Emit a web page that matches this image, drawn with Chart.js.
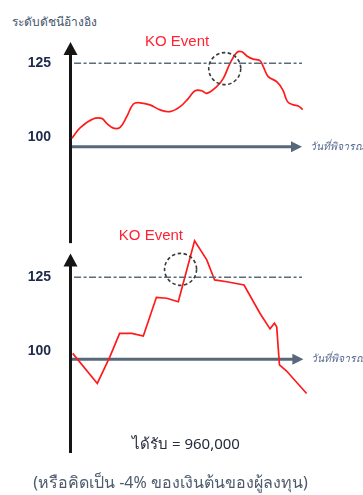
<!DOCTYPE html>
<html>
<head>
<meta charset="utf-8">
<script src="https://cdn.jsdelivr.net/npm/chart.js@4/dist/chart.umd.min.js"></script>
<style>
  html, body { margin: 0; padding: 0; background: #fff; width: 363px; height: 495px; overflow: hidden; }
  body { position: relative; font-family: Tahoma, "Noto Sans", "DejaVu Sans", sans-serif; }
  canvas { position: absolute; left: 0; }
  #upChart { top: 0; }
  #downChart { top: 225px; }
  .txt { position: absolute; white-space: nowrap; }
  #title { left: 12px; top: 12px; font-size: 12px; color: #44546a; }
  #payout { left: 0; width: 372px; text-align: center; top: 432px; font-size: 15px; color: #262a3a; }
  #note { left: 0; width: 341px; text-align: center; top: 470px; font-size: 16px; color: #4c5b6d; }
</style>
</head>
<body>
<div id="title" class="txt">ระดับดัชนีอ้างอิง</div>
<canvas id="upChart" width="363" height="248"></canvas>
<canvas id="downChart" width="363" height="235"></canvas>
<div id="payout" class="txt">ได้รับ = 960,000</div>
<div id="note" class="txt">(หรือคิดเป็น -4% ของเงินต้นของผู้ลงทุน)</div>

<script>
// Scenario 1: index path that climbs, touches the barrier and falls back
const upDays = [0, 3.5, 9.1, 12.9, 15.1, 18.0, 20.9, 23.8, 26.7, 29.6, 33.9, 38.3, 42.6, 47.0,
  50.6, 53.5, 56.4, 58.6, 62.9, 65.8, 68.7, 71.6, 73.8, 76.0, 78.8, 81.7, 83.2, 85.3, 89.1,
  91.7, 93.7, 96.2, 98.4, 100.3];
const upLevels = [99.6, 103.1, 106.1, 106.3, 104.6, 103.0, 103.3, 106.9, 111.2, 111.6, 110.9,
  109.2, 108.6, 110.3, 113.1, 115.7, 115.7, 114.8, 117.1, 119.9, 125.0, 128.6, 128.9, 127.5,
  126.4, 125.9, 123.8, 120.5, 118.7, 115.9, 112.0, 110.9, 110.5, 109.3];

// Scenario 2: index path that spikes through the barrier and ends below the start
const downDays = [0.3, 11.0, 16.5, 20.7, 26.0, 31.0, 36.7, 41.2, 46.2, 53.3, 58.6, 62.0, 67.3,
  74.8, 81.7, 86.1, 88.0, 89.0, 90.2, 93.3, 102.0];
const downLevels = [99.2, 89.0, 98.1, 106.0, 106.0, 105.1, 118.2, 117.9, 116.7, 137.4, 130.9,
  124.1, 123.5, 122.4, 112.8, 107.5, 109.4, 108.2, 95.3, 93.2, 85.6];

// Level axis ticks and the knock-out barrier
const tickValues = [125, 100];
const tickLabels = ['125', '100'];
const barrierLevel = 125;
const barrierDays = [0.9, 100];

// Knock-out markers: [day, level] of the circled crossing and label text
const upKnockOut = [66.4, 123.2];
const downKnockOut = [47.2, 127.7];
const koText = 'KO Event';
const upKoLabelAt = [45.7, 132.2];
const downKoLabelAt = [34.3, 139.0];

const xAxisTitle = 'วันที่พิจารณา';

const thaiFont = 'Tahoma, "Noto Sans", "DejaVu Sans", sans-serif';

// Draws the arrowed axes, the date caption, the dashed circle and the KO label
const framePlugin = {
  id: 'frame',
  beforeDatasetsDraw(chart, args, o) {
    const { ctx, chartArea } = chart;
    const xs = chart.scales.x, ys = chart.scales.y;
    const ax = chartArea.left + 0.5;
    const hy = ys.getPixelForValue(o.baseLevel);
    const hx = xs.getPixelForValue(o.arrowDay);
    ctx.save();
    // horizontal (date) axis
    ctx.strokeStyle = '#56687a';
    ctx.fillStyle = '#56687a';
    ctx.lineWidth = 3;
    ctx.beginPath(); ctx.moveTo(ax, hy); ctx.lineTo(hx - 8, hy); ctx.stroke();
    ctx.beginPath(); ctx.moveTo(hx, hy); ctx.lineTo(hx - 11, hy - 5.5); ctx.lineTo(hx - 11, hy + 5.5);
    ctx.closePath(); ctx.fill();
    // caption of the date axis
    ctx.font = 'italic 10.5px ' + thaiFont;
    ctx.fillStyle = '#5a6c90';
    ctx.textBaseline = 'middle';
    ctx.fillText(xAxisTitle, hx + 8, hy);
    // vertical (level) axis
    const vt = ys.getPixelForValue(o.levelTop), vb = ys.getPixelForValue(o.levelBottom);
    ctx.strokeStyle = '#151515';
    ctx.fillStyle = '#151515';
    ctx.beginPath(); ctx.moveTo(ax, vb); ctx.lineTo(ax, vt + 10); ctx.stroke();
    ctx.beginPath(); ctx.moveTo(ax, vt); ctx.lineTo(ax - 7, vt + 13); ctx.lineTo(ax + 7, vt + 13);
    ctx.closePath(); ctx.fill();
    ctx.restore();
  },
  afterDatasetsDraw(chart, args, o) {
    const { ctx } = chart;
    const xs = chart.scales.x, ys = chart.scales.y;
    ctx.save();
    // dashed circle round the barrier crossing
    ctx.strokeStyle = '#3a3a3a';
    ctx.lineWidth = 1.6;
    ctx.setLineDash([3.5, 2.5]);
    ctx.beginPath();
    ctx.arc(xs.getPixelForValue(o.knockOut[0]), ys.getPixelForValue(o.knockOut[1]), 16, 0, Math.PI * 2);
    ctx.stroke();
    ctx.setLineDash([]);
    // KO label
    ctx.font = '15px "Liberation Sans", Arial, sans-serif';
    ctx.fillStyle = '#ff2233';
    ctx.textAlign = 'center';
    ctx.textBaseline = 'middle';
    ctx.fillText(koText, xs.getPixelForValue(o.labelAt[0]), ys.getPixelForValue(o.labelAt[1]));
    ctx.restore();
  }
};

function buildChart(id, days, levels, smooth, yMin, yMax, frame) {
  return new Chart(document.getElementById(id), {
    type: 'line',
    data: {
      datasets: [
        {
          data: barrierDays.map(d => ({ x: d, y: barrierLevel })),
          borderColor: '#5b6b7a',
          borderWidth: 1.6,
          borderDash: [7, 2.5, 3, 2.5],
          pointRadius: 0,
          tension: 0
        },
        {
          data: days.map((d, i) => ({ x: d, y: levels[i] })),
          borderColor: '#ff1a1a',
          borderWidth: 1.7,
          pointRadius: 0,
          tension: smooth ? 0.4 : 0
        }
      ]
    },
    options: {
      responsive: false,
      animation: false,
      events: [],
      layout: { padding: 0 },
      plugins: {
        legend: { display: false },
        tooltip: { enabled: false },
        frame: frame
      },
      scales: {
        x: { type: 'linear', min: -0.87, max: 126.52, display: false },
        y: {
          type: 'linear',
          min: yMin,
          max: yMax,
          position: 'left',
          grid: { display: false, drawTicks: false },
          border: { display: false },
          afterFit(s) { s.width = 70; s.paddingTop = 0; s.paddingBottom = 0; },
          afterBuildTicks(s) { s.ticks = tickValues.map(v => ({ value: v })); },
          ticks: {
            padding: 19,
            color: '#1d2a4a',
            font: { family: '"Liberation Sans", Arial, sans-serif', size: 14, weight: 'bold' },
            callback: (v) => tickLabels[tickValues.indexOf(v)]
          }
        }
      }
    },
    plugins: [framePlugin]
  });
}

buildChart('upChart', upDays, upLevels, true, 62.35, 146.47, {
  baseLevel: 96.7, arrowDay: 100, levelTop: 132.2, levelBottom: 64.0,
  knockOut: upKnockOut, labelAt: upKoLabelAt
});

buildChart('downChart', downDays, downLevels, false, 63.03, 142.74, {
  baseLevel: 97.2, arrowDay: 100.6, levelTop: 133.1, levelBottom: 65.4,
  knockOut: downKnockOut, labelAt: downKoLabelAt
});
</script>
</body>
</html>
